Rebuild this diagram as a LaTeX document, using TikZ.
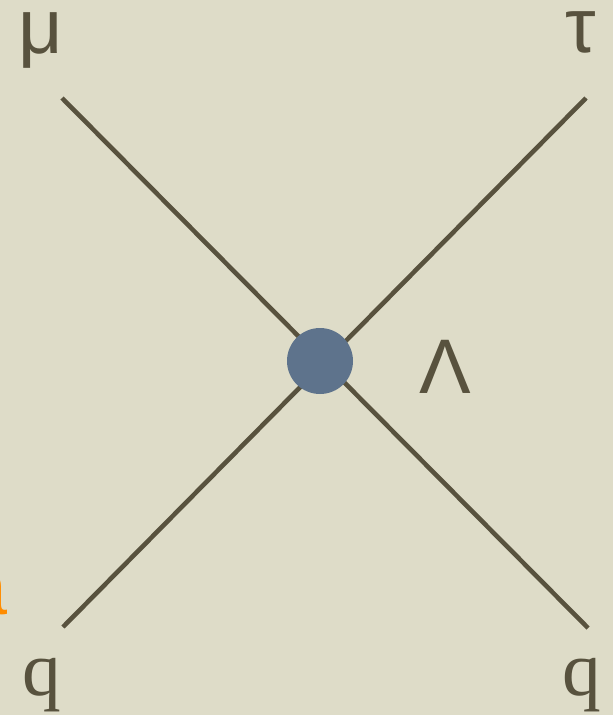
\documentclass[tikz,border=0pt]{standalone}
\usepackage{fontspec}
\setmainfont{Liberation Serif}
\setsansfont{Liberation Sans}
\usepackage{tikz}

\definecolor{paper}{RGB}{222,220,200}
\definecolor{ink}{RGB}{88,82,62}
\definecolor{blob}{RGB}{94,115,140}
\definecolor{hint}{RGB}{255,140,0}

\begin{document}
\begin{tikzpicture}[x=0.1mm, y=-0.1mm, every node/.style={font=\fontsize{22}{26}\selectfont, text=ink, inner sep=0pt}]
  \fill[paper] (0,0) rectangle (613,715);
  \useasboundingbox (0,0) rectangle (613,715);
  \clip (0,0) rectangle (613,715);
  \coordinate (ul) at (62,98);
  \coordinate (ur) at (586,98);
  \coordinate (ll) at (63,627);
  \coordinate (lr) at (588,628);
  \draw[ink, line width=1.3pt] (ul)--(lr);
  \draw[ink, line width=1.3pt] (ur)--(ll);
  \node[circle, fill=blob, minimum size=66*0.1mm] (v) at (320,361) {};
  \node[anchor=base, font=\fontsize{22}{26}\selectfont\sffamily] (mu)  at (41,53)   {μ};
  \node[anchor=base, font=\fontsize{22}{26}\selectfont\sffamily] (tau) at (581,52)  {τ};
  \node[anchor=base, font=\fontsize{22}{26}\selectfont\sffamily] (lam) at (445,393) {Λ};
  \node[anchor=base] (q1) at (42,695)  {q};
  \node[anchor=base] (q2) at (582,695) {q};
  \node[anchor=base east, text=hint, font=\fontsize{22}{26}\selectfont\sffamily] (cut) at (8,614) {a};
\end{tikzpicture}
\end{document}
